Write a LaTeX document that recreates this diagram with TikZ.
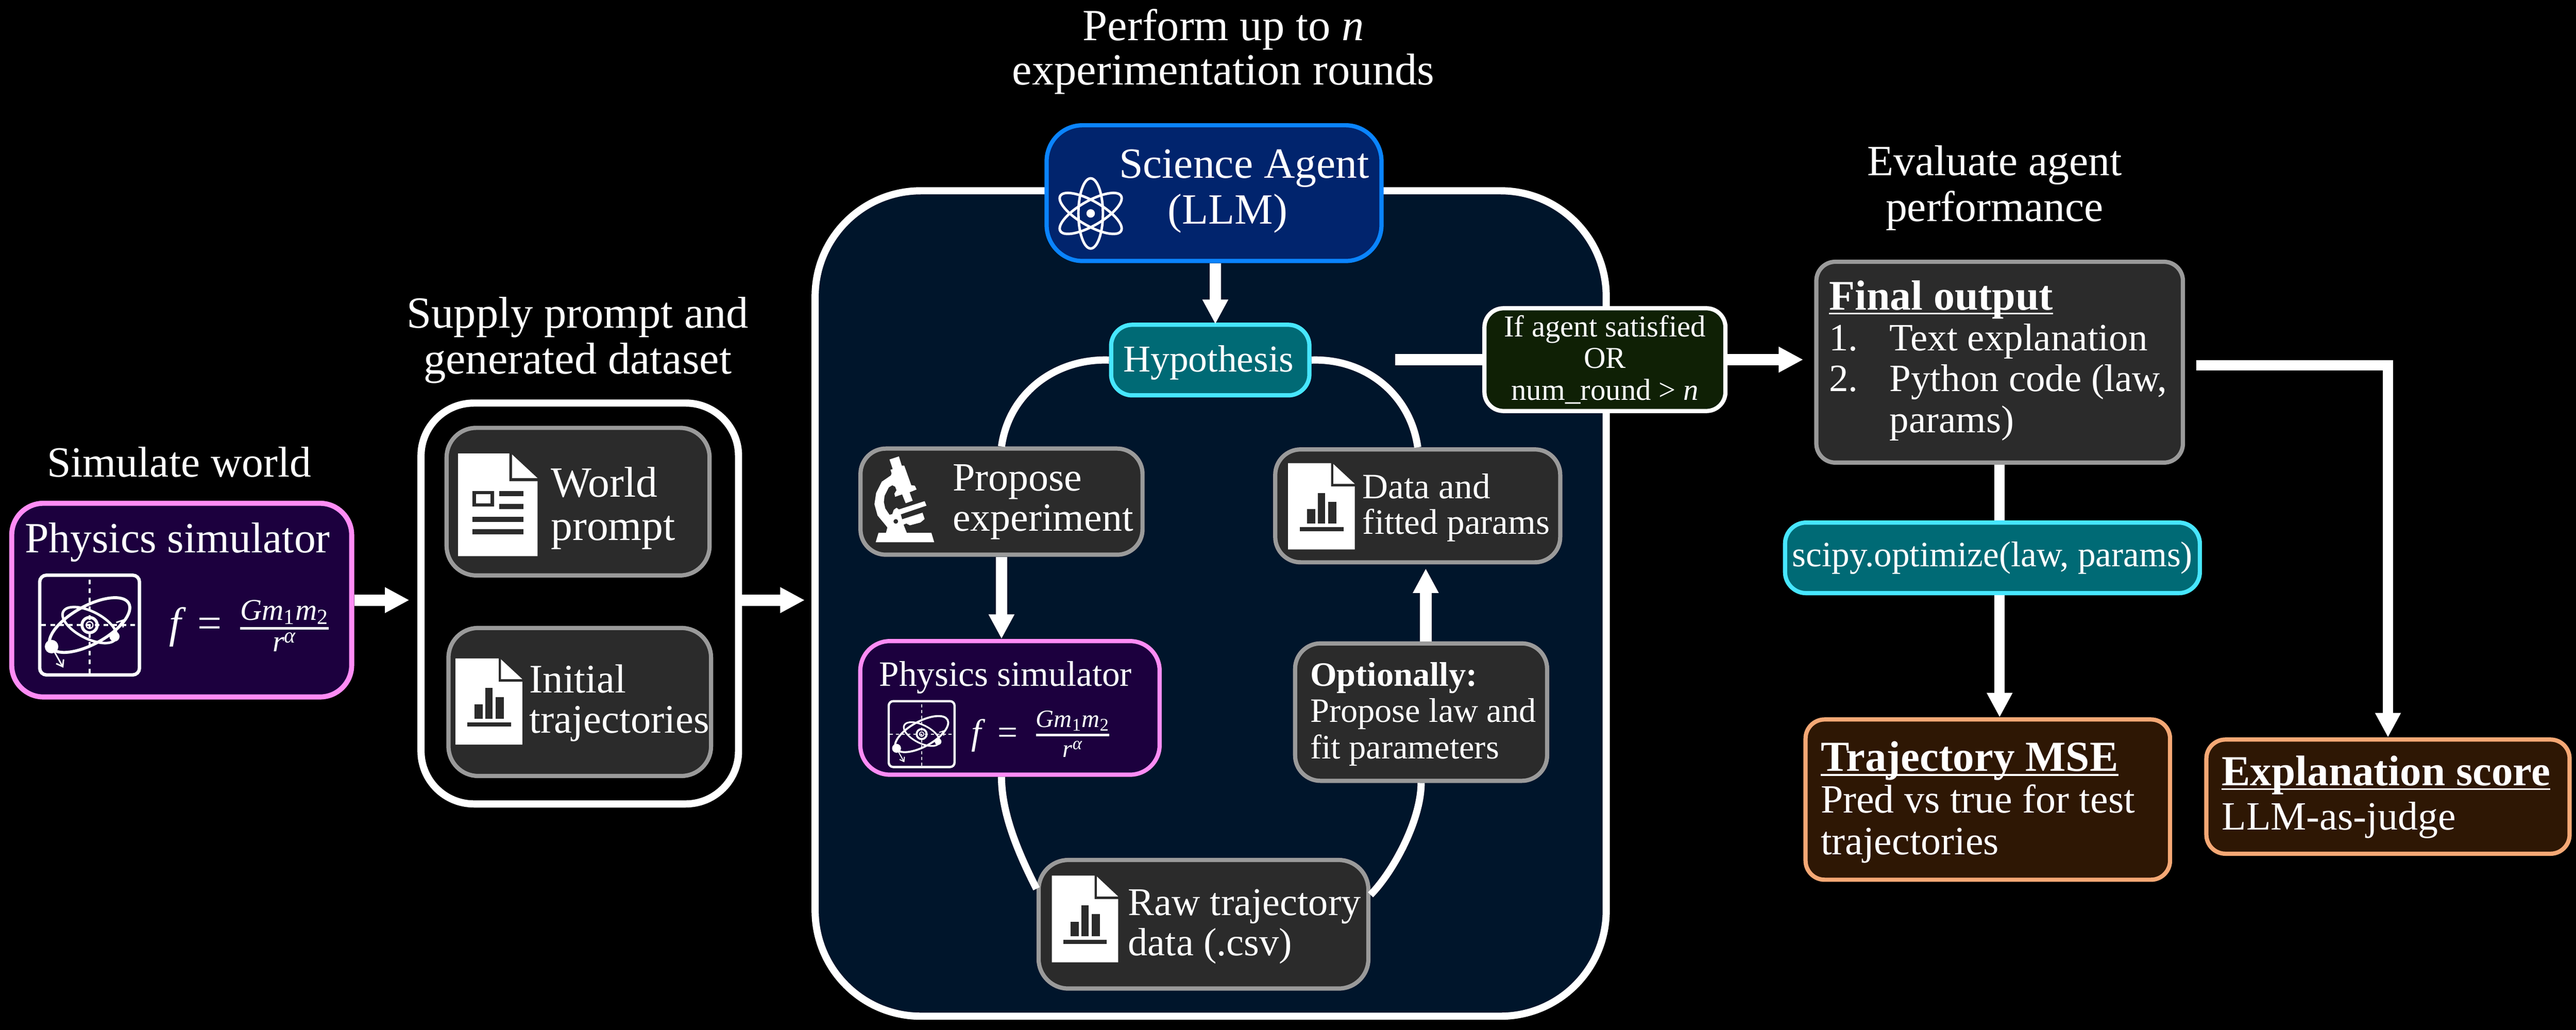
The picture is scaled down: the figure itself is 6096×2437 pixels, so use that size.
\documentclass[tikz,border=0pt]{standalone}
\usepackage{amsmath}
\usepackage{fontspec}
\setmainfont{Liberation Serif}
\usepackage[HTML]{xcolor}
\usetikzlibrary{arrows.meta}

\definecolor{navyfill}{HTML}{00152B}
\definecolor{boxgray}{HTML}{2B2B2B}
\definecolor{linegray}{HTML}{9A9A9A}
\definecolor{pinkline}{HTML}{FF8CF5}
\definecolor{pinkfill}{HTML}{1C003E}
\definecolor{blueline}{HTML}{0A84FF}
\definecolor{bluefill}{HTML}{01246D}
\definecolor{cyanline}{HTML}{47E6FF}
\definecolor{cyanfill}{HTML}{006A75}
\definecolor{greenfill}{HTML}{0F2005}
\definecolor{orangeline}{HTML}{F5A875}
\definecolor{orangefill}{HTML}{2E1704}

\newlength{\headwd}
\newcommand{\headline}[1]{\settowidth{\headwd}{#1}\rlap{#1}\rule[-3pt]{\headwd}{1.1pt}}

\tikzset{
  box/.style={rectangle, inner sep=0pt, line width=0.10cm, rounded corners=0.6cm},
  boxsize/.style 2 args={minimum width=#1cm, minimum height=#2cm},
  graybox/.style={box, draw=linegray, fill=boxgray},
  pinkbox/.style={box, draw=pinkline, fill=pinkfill},
  cyanbox/.style={box, draw=cyanline, fill=cyanfill, rounded corners=0.5cm},
  orangebox/.style={box, draw=orangeline, fill=orangefill, rounded corners=0.45cm},
  txt/.style={text=white, inner sep=0pt, align=left, anchor=base west},
  title/.style={text=white, inner sep=0pt, align=center, anchor=base},
  sz/.style 2 args={font=\fontsize{#1}{#2}\selectfont},
  flow/.style={white, line width=0.27cm, -{Triangle[length=0.58cm,width=0.57cm]}},
  loopline/.style={white, line width=0.17cm}
}

% icon: page with folded corner, top left at #1,#2, size #3 x #4
\newcommand{\docbody}{
  \fill[white] (0,0) -- (0.645,0) -- (0.645,0.27) -- (1,0.27) -- (1,1) -- (0,1) -- cycle;
  \fill[white] (0.68,0.01) -- (1,0.24) -- (0.68,0.24) -- cycle;
}
\newcommand{\chartdoc}[4]{
\begin{scope}[shift={(#1,#2)},x={#3*0.01cm},y={-#4*0.01cm}]
  \docbody
  \fill[boxgray] (0.285,0.534) rectangle (0.408,0.698);
  \fill[boxgray] (0.446,0.344) rectangle (0.554,0.698);
  \fill[boxgray] (0.6,0.446) rectangle (0.723,0.698);
  \fill[boxgray] (0.177,0.74) rectangle (0.83,0.79);
\end{scope}
}
\newcommand{\promptdoc}[4]{
\begin{scope}[shift={(#1,#2)},x={#3*0.01cm},y={-#4*0.01cm}]
  \docbody
  \fill[boxgray] (0.18,0.368) rectangle (0.45,0.514);
  \fill[white] (0.225,0.395) rectangle (0.405,0.487);
  \fill[boxgray] (0.516,0.368) rectangle (0.826,0.418);
  \fill[boxgray] (0.516,0.492) rectangle (0.826,0.541);
  \fill[boxgray] (0.18,0.615) rectangle (0.826,0.665);
  \fill[boxgray] (0.18,0.739) rectangle (0.826,0.788);
\end{scope}
}
% icon: orbits in a frame, centre #1,#2, scale #3
\newcommand{\orbiticon}[3]{
\begin{scope}[shift={(#1,#2)},x={#3*0.01cm},y={#3*0.01cm},white]
  \draw[line width={#3*0.08cm},rounded corners={#3*0.16cm}] (-118,-118) rectangle (118,118);
  \draw[line width={#3*0.04cm},dash pattern=on {#3*0.11cm} off {#3*0.10cm}] (0,-114) -- (0,114);
  \draw[line width={#3*0.04cm},dash pattern=on {#3*0.11cm} off {#3*0.10cm}] (-114,0) -- (114,0);
  \draw[line width={#3*0.07cm}] (0,0) circle (18);
  \draw[line width={#3*0.03cm}] (0,0) circle (8);
  \draw[line width={#3*0.07cm},rotate=29] (0,0) ellipse (106 and 45);
  \draw[line width={#3*0.06cm},rotate=-27] (0,0) ellipse (70 and 32);
  \fill (-90,-51) circle (16);
  \fill (59,-27) circle (12);
  \draw[line width={#3*0.035cm},-{Straight Barb[length={#3*0.14cm},width={#3*0.2cm}]}] (-84,-62) -- (-62,-101);
  \draw[line width={#3*0.035cm},-{Straight Barb[length={#3*0.14cm},width={#3*0.2cm}]}] (61,-14) -- (81,14);
\end{scope}
}
\newcommand{\simformula}{$\textit{f}\mathrel{\,\text{=}\,}\genfrac{}{}{1.8pt}{1}{\textit{G}\textit{m}_{\text{1}}\textit{m}_{\text{2}}}{\textit{r}^{\textit{α}}}$}

\begin{document}
\begin{tikzpicture}[x=0.01cm,y=-0.01cm]
\fill[black] (0,0) rectangle (6096,2437);
\useasboundingbox (0,0) rectangle (6096,2437);

% Simulate world
\node[title, sz={29}{31}] (simtitle) at (424,1128) {Simulate world};
\node[pinkbox, boxsize={8.04}{4.58}, line width=0.12cm, rounded corners=0.75cm] (sim) at (430,1420) {};
\node[txt, sz={29}{31}] (simtxt) at (58,1308) {Physics simulator};
\orbiticon{212}{1479}{1}
\node[txt, sz={29}{31}] (simeq) at (400,1509) {\simformula};

% Supply prompt
\node[title, sz={30}{31}] (supplytitle) at (1367,885) {Supply prompt and\\generated dataset};
\node[rectangle, draw=white, fill=black, line width=0.17cm, rounded corners=1.25cm, boxsize={7.51}{9.48}] (leftbox) at (1372,1428) {};
\node[graybox, boxsize={6.22}{3.49}, rounded corners=0.7cm] (world) at (1368,1187) {};
\promptdoc{1084}{1073}{188}{243}
\node[txt, sz={29}{29}] (worldtxt) at (1303,1278) {World\\prompt};
\node[graybox, boxsize={6.21}{3.50}, rounded corners=0.7cm] (init) at (1372,1661) {};
\chartdoc{1078}{1558}{158}{204}
\node[txt, sz={27.3}{27}] (inittxt) at (1252,1734) {Initial\\trajectories};

% Experimentation rounds
\node[title, sz={30}{30}] (roundtitle) at (2895,201) {Perform up to \textit{n}\\experimentation rounds};
\node[rectangle, draw=white, fill=navyfill, line width=0.17cm, rounded corners=2.5cm, boxsize={18.71}{19.52}] (big) at (2865,1428) {};
\node[box, draw=blueline, fill=bluefill, boxsize={7.92}{3.21}, rounded corners=0.85cm] (agent) at (2873,457) {};
\draw[white, line width=0.06cm, rotate around={90:(2581,505)}] (2581,505) ellipse (83 and 29);
\draw[white, line width=0.06cm, rotate around={30:(2581,505)}] (2581,505) ellipse (83 and 29);
\draw[white, line width=0.06cm, rotate around={-30:(2581,505)}] (2581,505) ellipse (83 and 29);
\fill[white] (2581,505) circle (10);
\node[title, sz={29}{31}] (agenttxt) at (2944,530) {Science Agent\\(LLM)\hspace*{0.78cm}};
\node[cyanbox, boxsize={4.69}{1.67}] (hyp) at (2864,852) {};
\node[title, sz={25.5}{27}] (hyptxt) at (2860,880) {Hypothesis};

\node[graybox, boxsize={6.67}{2.51}] (propose) at (2370,1187) {};
\begin{scope}[shift={(2050,1060)},x=0.00333cm,y=-0.00333cm]
\fill[white, even odd rule] (165,82) -- (232,60) -- (252,125) -- (270,125) -- (320,265) -- (345,268) -- (358,295) -- (308,315) -- (330,375) -- (280,393) -- (255,330) -- (205,347) -- (200,325) -- (215,300) -- (205,275) -- (185,265) -- (160,280) -- (130,340) -- (125,385) -- (135,430) -- (165,475) -- (185,470) -- (195,440) -- (215,425) -- (232,437) -- (415,378) -- (428,410) -- (245,472) -- (255,507) -- (400,460) -- (415,505) -- (385,530) -- (310,550) -- (285,537) -- (265,545) -- (288,603) -- (463,603) -- (483,670) -- (67,670) -- (87,603) -- (140,603) -- (150,565) -- (130,540) -- (80,480) -- (58,400) -- (70,320) -- (110,240) -- (175,195) -- (180,180) -- (172,155) -- (188,150) -- cycle (210,522) circle (17);
\end{scope}
\node[txt, sz={27}{27}] (proposetxt) at (2254,1256) {Propose\\experiment};

\node[graybox, boxsize={6.74}{2.67}] (data) at (3355,1197) {};
\chartdoc{3048}{1096}{158}{204}
\node[txt, sz={24}{24}] (datatxt) at (3224,1264) {Data and\\fitted params};

\node[pinkbox, boxsize={7.08}{3.16}, rounded corners=0.7cm] (physim) at (2390,1675) {};
\node[txt, sz={24}{26}] (physimtxt) at (2080,1623) {Physics simulator};
\orbiticon{2181}{1737}{0.66}
\node[txt, sz={24}{26}] (physimeq) at (2298,1761) {\simformula};

\node[graybox, boxsize={5.96}{3.25}] (opt) at (3363,1685) {};
\node[txt, sz={23}{24.4}] (opttxt) at (3100,1795) {\textbf{Optionally:}\\Propose law and\\fit parameters};

\node[graybox, boxsize={7.80}{3.04}, rounded corners=0.7cm] (raw) at (2848,2187) {};
\chartdoc{2489}{2072}{157}{205}
\node[txt, sz={26.5}{27}] (rawtxt) at (2669,2261) {Raw trajectory\\data (.csv)};

% Loop between the steps
\draw[flow] (agent.south -| 2876,0) -- (2876,767);
\draw[loopline] (hyp.west) to[out=178,in=82] (propose.north);
\draw[loopline] (hyp.east) to[out=2,in=98] (data.north);
\draw[flow] (propose.south) -- (propose.south |- physim.north);
\draw[flow] (opt.north -| 3374,0) -- (3374,1345);
\draw[loopline] (physim.south -| propose.south) .. controls +(0,92) and +(-38,-75) .. (raw.168);
\draw[loopline] (opt.south) .. controls +(0,87) and +(55,-56) .. (raw.10);

% Evaluate
\node[title, sz={29}{31}] (evaltitle) at (4720,524) {Evaluate agent\\performance};
\coordinate (hypout) at (3302,851);
\node[box, draw=white, fill=greenfill, boxsize={5.70}{2.43}, rounded corners=0.45cm, text=white, align=center, sz={20.4}{21.3}] (cond) at (3798,851) {If agent satisfied\\OR\\num\_round > \textit{n}};
\node[graybox, boxsize={8.67}{4.75}, rounded corners=0.45cm] (final) at (4732,857) {};
\node[txt, sz={26}{27.5}] (finaltxt) at (4328,1023) {{\fontsize{28.4}{27.5}\selectfont\bfseries\headline{Final output}}\\\makebox[1.43cm][l]{1.}Text explanation\\\makebox[1.43cm][l]{2.}Python code (law,\\\makebox[1.43cm][l]{}params)};
\node[cyanbox, boxsize={9.81}{1.67}] (scipy) at (4715,1320) {\textcolor{white}{\fontsize{24}{26}\selectfont scipy.optimize(law, params)}};
\node[orangebox, boxsize={8.62}{3.79}] (traj) at (4704,1892) {};
\node[txt, sz={27}{28}] (trajtxt) at (4308,2022) {{\fontsize{28.8}{28}\selectfont\bfseries\headline{Trajectory MSE}}\\Pred vs true for test\\trajectories};
\node[orangebox, boxsize={8.59}{2.70}] (expl) at (5651,1885) {};
\node[txt, sz={27}{30}] (expltxt) at (5257,1964) {{\fontsize{28.8}{30}\selectfont\bfseries\headline{Explanation score}}\\LLM-as-judge};

\coordinate (finalout) at (5197,864);
\draw[white, line width=0.27cm] (hypout) -- (cond.west);
\draw[flow, shorten >=0.26cm] (cond.east) -- (cond.east -| final.west);
\draw[flow, line width=0.24cm] (finalout) -| (expl.north);
\draw[white, line width=0.24cm] (final.south) -- (final.south |- scipy.north);
\draw[flow, line width=0.24cm] (final.south |- scipy.south) -- (final.south |- traj.north);

% Steps between the panels
\draw[flow, shorten >=0.19cm] (sim.east) -- (sim.east -| leftbox.west);
\draw[flow, shorten >=0.16cm] (leftbox.east |- sim.east) -- (big.west |- sim.east);
\end{tikzpicture}
\end{document}
